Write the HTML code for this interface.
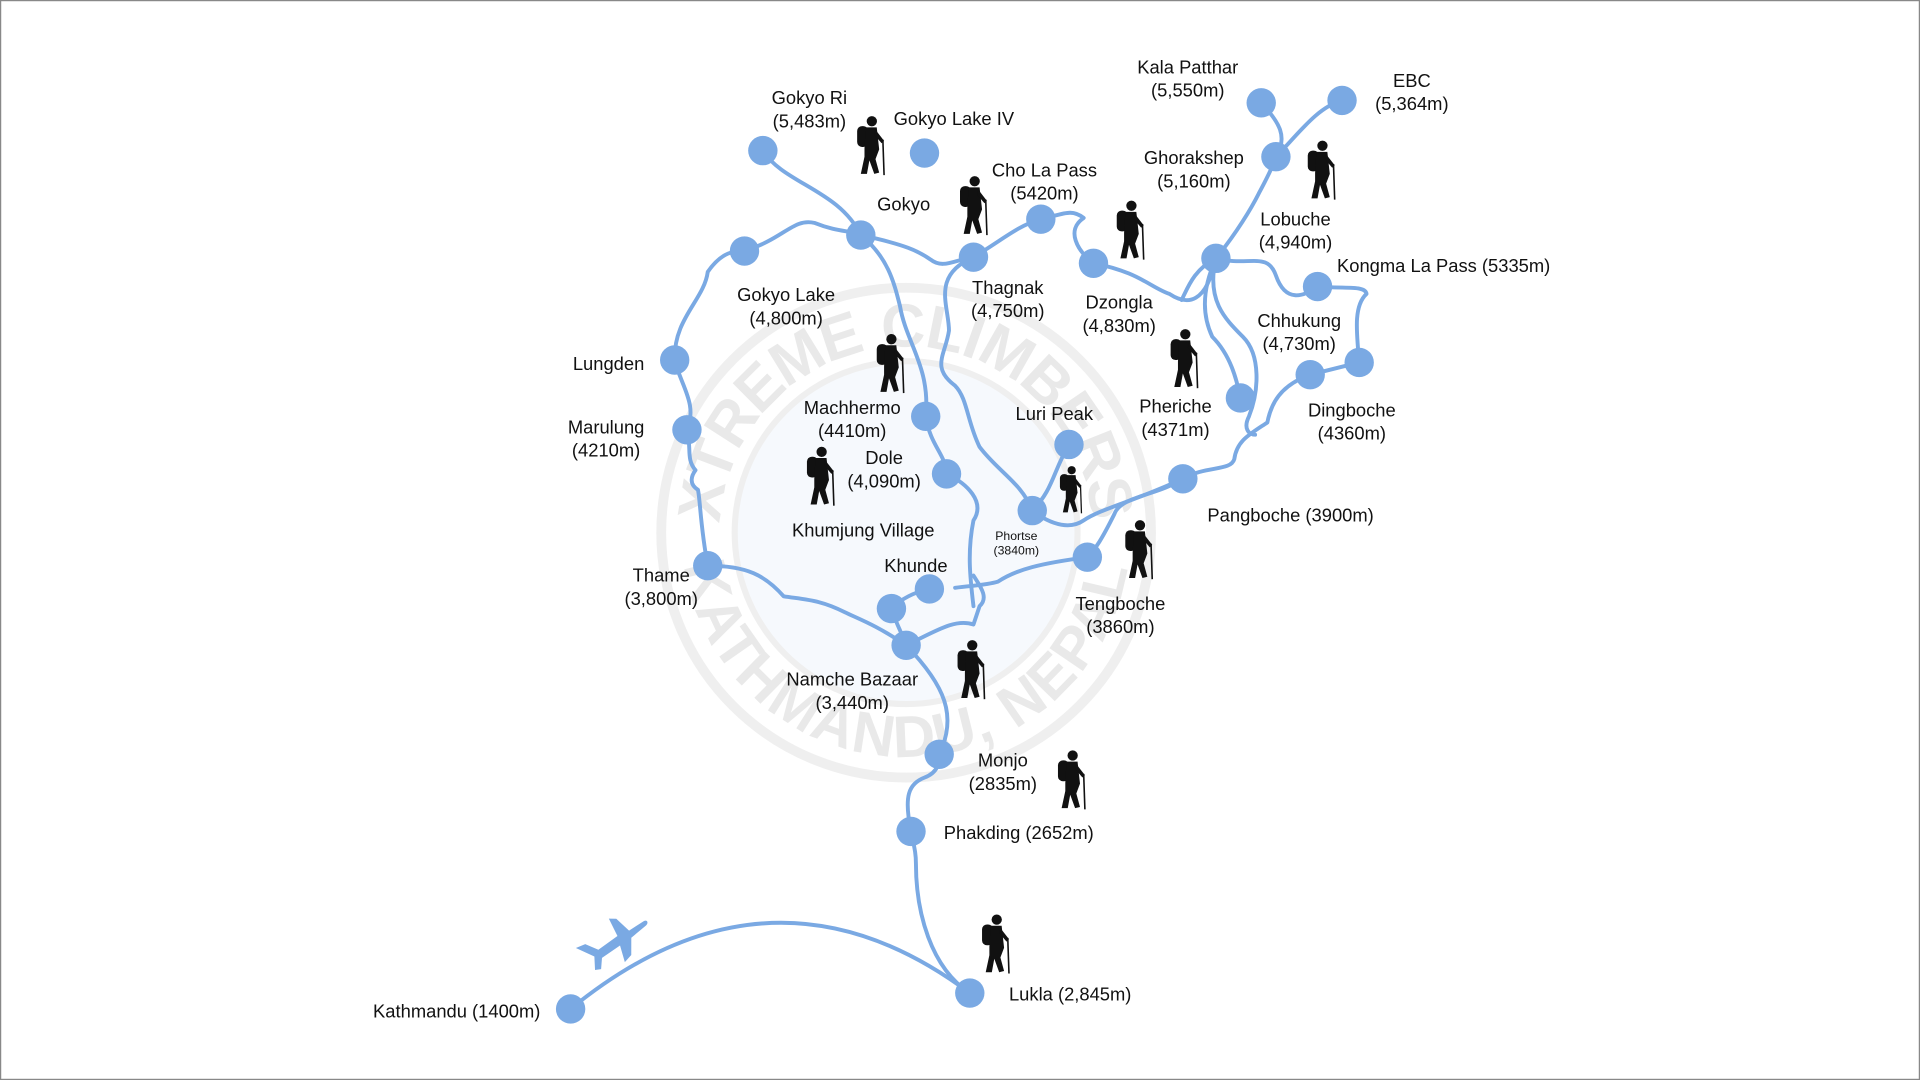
<!DOCTYPE html>
<html><head><meta charset="utf-8"><style>
html,body{margin:0;padding:0;background:#fff}
svg{display:block}
text{font-family:"Liberation Sans",sans-serif;fill:#111;font-size:15px}
</style></head><body>
<svg width="1920" height="1080" viewBox="0 0 1568 882" xmlns="http://www.w3.org/2000/svg">
<rect x="0.5" y="0.5" width="1567" height="881" fill="#fff" stroke="#888" stroke-width="1"/>
<defs>
<g id="h">
 <circle cx="14" cy="5" r="4.2" fill="#111"/>
 <rect x="2" y="9" width="9" height="17" rx="4" fill="#111"/>
 <path d="M9 10 L18 10 L20 28 L17 36 L20 47 L16 48 L12 37 L10 48 L5 48 L8 34 L8 27 Z" fill="#111"/>
 <path d="M17 12 L24 21 L22 23 L16 16Z" fill="#111"/>
 <line x1="23" y1="20" x2="24" y2="49" stroke="#111" stroke-width="1.3"/>
</g>
<path id="arcTop" d="M570,435 A170,170 0 0 1 910,435"/>
<path id="arcBot" d="M555,435 A185,185 0 0 0 925,435"/>
</defs>
<!-- watermark -->
<g>
<circle cx="740" cy="435" r="200" fill="none" stroke="#efefef" stroke-width="8"/>
<circle cx="740" cy="435" r="140" fill="#f6f9fd" stroke="#efefef" stroke-width="5"/>
<text font-size="50" font-weight="bold" style="fill:#e9e9e9;font-size:50px" letter-spacing="2" dy="18"><textPath href="#arcTop" startOffset="50%" text-anchor="middle">XTREME CLIMBERS</textPath></text>
<text font-size="48" font-weight="bold" style="fill:#e9e9e9;font-size:48px" letter-spacing="2" dy="-2"><textPath href="#arcBot" startOffset="50%" text-anchor="middle">KATHMANDU, NEPAL</textPath></text>
</g>
<g fill="none" stroke="#7aa9e3" stroke-width="3.2" stroke-linecap="round" stroke-linejoin="round">
<path d="M466,824 Q630,690 792,811"/>
<path d="M792,811 C760,790 748,745 748,705 C748,690 744,685 744,679"/>
<path d="M744,679 C738,650 742,640 755,635 C768,630 767,620 767,616"/>
<path d="M767,616 C782,585 772,560 740,527"/>
<path d="M740,527 C715,510 700,505 690,500 C670,490 660,490 640,487 C625,470 610,462 578,462"/>
<path d="M578,462 C572,430 572,410 570,400 C562,395 565,388 568,384 C560,375 565,365 561,351"/>
<path d="M561,351 C570,330 556,315 551,294"/>
<path d="M551,294 C550,260 575,245 578,222 C590,205 600,205 608,205"/>
<path d="M608,205 C640,195 648,178 665,182 C685,190 695,188 703,192"/>
<path d="M623,123 C640,150 685,155 703,192"/>
<path d="M703,192 C740,200 750,205 760,212 C770,220 780,212 795,210"/>
<path d="M795,210 C820,195 830,185 850,179 C868,175 875,170 885,178 C870,188 880,205 893,215"/>
<path d="M893,215 C930,222 940,235 955,240 C970,250 985,248 993,211"/>
<path d="M993,211 C1010,190 1022,170 1028,158 C1035,145 1040,135 1042,128"/>
<path d="M1042,128 C1052,112 1045,100 1030,84"/>
<path d="M1042,128 C1060,110 1075,88 1096,82"/>
<path d="M993,211 C1020,218 1035,205 1042,225 C1050,248 1065,242 1076,234"/>
<path d="M1076,234 C1100,236 1115,233 1116,240 C1105,250 1108,272 1110,296"/>
<path d="M1110,296 L1070,306"/>
<path d="M1070,306 C1045,315 1038,330 1035,345 C1020,355 1010,360 1008,375 C1005,385 985,380 966,391"/>
<path d="M966,391 C945,405 915,405 910,420 C900,440 895,448 888,455"/>
<path d="M888,455 C850,460 830,465 815,475 C805,478 795,478 780,480"/>
<path d="M759,481 C745,484 735,490 728,497"/>
<path d="M728,497 C732,510 738,520 740,527 C765,515 780,505 795,510 L800,495 C808,488 800,478 795,470"/>
<path d="M703,192 C725,210 730,230 735,250 C740,280 760,300 756,340"/>
<path d="M756,340 C760,365 772,370 773,387 C790,395 805,410 795,425 C790,450 792,470 795,495"/>
<path d="M795,210 C760,225 775,250 775,270 C772,290 760,300 780,315 C790,325 790,345 800,365 C815,385 835,395 843,417"/>
<path d="M843,417 C860,400 860,385 873,363"/>
<path d="M843,417 C860,430 875,432 885,425 C900,415 925,410 966,391"/>
<path d="M993,211 C980,240 983,260 990,275 C1005,290 1010,310 1013,325"/>
<path d="M993,211 C985,245 1000,260 1015,275 C1030,290 1028,320 1020,340 C1015,350 1020,355 1025,355"/>
<path d="M993,211 C975,220 970,235 965,245"/>
</g>
<g fill="#7aa9e3">
<circle cx="466" cy="824" r="12"/><circle cx="792" cy="811" r="12"/><circle cx="744" cy="679" r="12"/>
<circle cx="767" cy="616" r="12"/><circle cx="740" cy="527" r="12"/><circle cx="728" cy="497" r="12"/>
<circle cx="759" cy="481" r="12"/><circle cx="578" cy="462" r="12"/><circle cx="561" cy="351" r="12"/>
<circle cx="551" cy="294" r="12"/><circle cx="608" cy="205" r="12"/><circle cx="703" cy="192" r="12"/>
<circle cx="623" cy="123" r="12"/><circle cx="755" cy="125" r="12"/><circle cx="795" cy="210" r="12"/>
<circle cx="850" cy="179" r="12"/><circle cx="893" cy="215" r="12"/><circle cx="993" cy="211" r="12"/>
<circle cx="1042" cy="128" r="12"/><circle cx="1030" cy="84" r="12"/><circle cx="1096" cy="82" r="12"/>
<circle cx="1076" cy="234" r="12"/><circle cx="1110" cy="296" r="12"/><circle cx="1070" cy="306" r="12"/>
<circle cx="1013" cy="325" r="12"/><circle cx="966" cy="391" r="12"/><circle cx="888" cy="455" r="12"/>
<circle cx="843" cy="417" r="12"/><circle cx="873" cy="363" r="12"/><circle cx="756" cy="340" r="12"/>
<circle cx="773" cy="387" r="12"/>
<path d="M470,770 L478,768 L488,774 L505,765 L500,750 L506,751 L515,762 L528,756 C531,755 532,758 529,760 L516,768 L514,782 L508,787 L506,773 L490,781 L488,790 L483,790 L484,779 Z" transform="rotate(-8 500 770)"/>
</g>
<g>
<use href="#h" x="698" y="94"/><use href="#h" x="782" y="143"/>
<use href="#h" x="910" y="163"/><use href="#h" x="1066" y="114"/>
<use href="#h" x="714" y="272"/><use href="#h" x="954" y="268"/>
<use href="#h" x="657" y="364"/><use href="#h" x="864" y="380" transform="translate(864,380) scale(0.8) translate(-864,-380)"/>
<use href="#h" x="917" y="424"/><use href="#h" x="780" y="522"/>
<use href="#h" x="862" y="612"/><use href="#h" x="800" y="746"/>
</g>
<g text-anchor="middle">
<text x="661" y="85">Gokyo Ri</text><text x="661" y="104">(5,483m)</text>
<text x="779" y="102">Gokyo Lake IV</text>
<text x="738" y="172">Gokyo</text>
<text x="853" y="144">Cho La Pass</text><text x="853" y="163">(5420m)</text>
<text x="823" y="240">Thagnak</text><text x="823" y="259">(4,750m)</text>
<text x="914" y="252">Dzongla</text><text x="914" y="271">(4,830m)</text>
<text x="970" y="60">Kala Patthar</text><text x="970" y="79">(5,550m)</text>
<text x="1153" y="71">EBC</text><text x="1153" y="90">(5,364m)</text>
<text x="975" y="134">Ghorakshep</text><text x="975" y="153">(5,160m)</text>
<text x="1058" y="184">Lobuche</text><text x="1058" y="203">(4,940m)</text>
<text x="1179" y="222">Kongma La Pass (5335m)</text>
<text x="1061" y="267">Chhukung</text><text x="1061" y="286">(4,730m)</text>
<text x="1104" y="340">Dingboche</text><text x="1104" y="359">(4360m)</text>
<text x="960" y="337">Pheriche</text><text x="960" y="356">(4371m)</text>
<text x="1054" y="426">Pangboche (3900m)</text>
<text x="915" y="498">Tengboche</text><text x="915" y="517">(3860m)</text>
<text x="861" y="343">Luri Peak</text>
<text x="830" y="441" style="font-size:10px">Phortse</text><text x="830" y="453" style="font-size:10px">(3840m)</text>
<text x="642" y="246">Gokyo Lake</text><text x="642" y="265">(4,800m)</text>
<text x="497" y="302">Lungden</text>
<text x="495" y="354">Marulung</text><text x="495" y="373">(4210m)</text>
<text x="696" y="338">Machhermo</text><text x="696" y="357">(4410m)</text>
<text x="722" y="379">Dole</text><text x="722" y="398">(4,090m)</text>
<text x="705" y="438">Khumjung Village</text>
<text x="748" y="467">Khunde</text>
<text x="540" y="475">Thame</text><text x="540" y="494">(3,800m)</text>
<text x="696" y="560">Namche Bazaar</text><text x="696" y="579">(3,440m)</text>
<text x="819" y="626">Monjo</text><text x="819" y="645">(2835m)</text>
<text x="832" y="685">Phakding (2652m)</text>
<text x="874" y="817">Lukla (2,845m)</text>
<text x="373" y="831">Kathmandu (1400m)</text>
</g>
</svg>
</body></html>
